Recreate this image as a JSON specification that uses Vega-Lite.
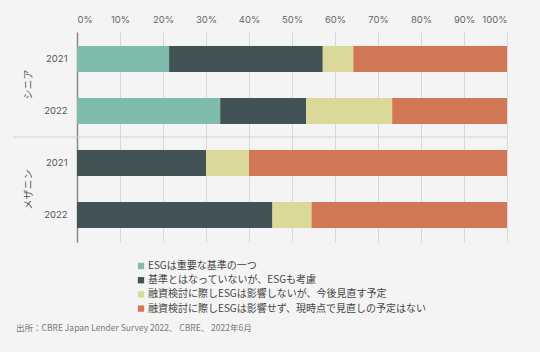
{
  "$schema": "https://vega.github.io/schema/vega-lite/v6.json",
  "width": 430,
  "height": 210,
  "autosize": {"type": "none"},
  "padding": {"left": 77, "top": 32, "right": 33, "bottom": 110},
  "background": "#f4f4f4",
  "config": {
    "view": {"stroke": null},
    "font": "Noto Sans CJK JP"
  },
  "title": {
    "text": "出所：CBRE Japan Lender Survey 2022、 CBRE、 2022年6月",
    "orient": "bottom",
    "anchor": "start",
    "frame": "group",
    "dx": -61,
    "offset": 10,
    "fontSize": 8.5,
    "fontWeight": "normal",
    "color": "#7a7a7a",
    "font": "Noto Sans CJK JP"
  },
  "layer": [
    {
      "data": {
        "values": [
          {"row": "シニア|2021", "category": "ESGは重要な基準の一つ", "ord": 1, "value": 21.4},
          {"row": "シニア|2021", "category": "基準とはなっていないが、ESGも考慮", "ord": 2, "value": 35.7},
          {"row": "シニア|2021", "category": "融資検討に際しESGは影響しないが、今後見直す予定", "ord": 3, "value": 7.1},
          {"row": "シニア|2021", "category": "融資検討に際しESGは影響せず、現時点で見直しの予定はない", "ord": 4, "value": 35.7},
          {"row": "シニア|2022", "category": "ESGは重要な基準の一つ", "ord": 1, "value": 33.3},
          {"row": "シニア|2022", "category": "基準とはなっていないが、ESGも考慮", "ord": 2, "value": 20.0},
          {"row": "シニア|2022", "category": "融資検討に際しESGは影響しないが、今後見直す予定", "ord": 3, "value": 20.0},
          {"row": "シニア|2022", "category": "融資検討に際しESGは影響せず、現時点で見直しの予定はない", "ord": 4, "value": 26.7},
          {"row": "メザニン|2021", "category": "ESGは重要な基準の一つ", "ord": 1, "value": 0},
          {"row": "メザニン|2021", "category": "基準とはなっていないが、ESGも考慮", "ord": 2, "value": 30.0},
          {"row": "メザニン|2021", "category": "融資検討に際しESGは影響しないが、今後見直す予定", "ord": 3, "value": 10.0},
          {"row": "メザニン|2021", "category": "融資検討に際しESGは影響せず、現時点で見直しの予定はない", "ord": 4, "value": 60.0},
          {"row": "メザニン|2022", "category": "ESGは重要な基準の一つ", "ord": 1, "value": 0},
          {"row": "メザニン|2022", "category": "基準とはなっていないが、ESGも考慮", "ord": 2, "value": 45.45},
          {"row": "メザニン|2022", "category": "融資検討に際しESGは影響しないが、今後見直す予定", "ord": 3, "value": 9.1},
          {"row": "メザニン|2022", "category": "融資検討に際しESGは影響せず、現時点で見直しの予定はない", "ord": 4, "value": 45.45}
        ]
      },
      "mark": {"type": "bar"},
      "encoding": {
        "y": {
          "field": "row",
          "type": "nominal",
          "sort": ["シニア|2021", "シニア|2022", "メザニン|2021", "メザニン|2022"],
          "scale": {"paddingInner": 0.5, "paddingOuter": 0.27},
          "axis": {
            "title": null,
            "orient": "left",
            "labelExpr": "split(datum.label, '|')[1]",
            "ticks": false,
            "tickSize": 0,
            "labelPadding": 10,
            "labelFont": "Inter",
            "labelFontSize": 9.5,
            "labelColor": "#555555",
            "domainColor": "#8a8a8a",
            "domainWidth": 1.5,
            "grid": false
          }
        },
        "x": {
          "field": "value",
          "type": "quantitative",
          "aggregate": "sum",
          "stack": "normalize",
          "scale": {"domain": [0, 1]},
          "axis": {
            "title": null,
            "orient": "top",
            "format": ".0%",
            "values": [0, 0.1, 0.2, 0.3, 0.4, 0.5, 0.6, 0.7, 0.8, 0.9, 1],
            "labelOverlap": false,
            "ticks": false,
            "tickSize": 0,
            "domain": false,
            "labelPadding": 8,
            "labelFont": "Inter",
            "labelFontSize": 9.5,
            "labelColor": "#666666",
            "grid": true,
            "gridColor": "#d8d8d8",
            "gridWidth": 1
          }
        },
        "color": {
          "field": "category",
          "type": "nominal",
          "scale": {
            "domain": ["ESGは重要な基準の一つ", "基準とはなっていないが、ESGも考慮", "融資検討に際しESGは影響しないが、今後見直す予定", "融資検討に際しESGは影響せず、現時点で見直しの予定はない"],
            "range": ["#80bcac", "#435254", "#dad99a", "#d27857"]
          },
          "legend": {
            "title": null,
            "orient": "none",
            "legendX": 59,
            "legendY": 229,
            "direction": "vertical",
            "symbolType": "square",
            "symbolSize": 40,
            "symbolStrokeWidth": 0,
            "labelFont": "Noto Sans CJK JP",
            "labelFontSize": 10,
            "labelColor": "#444444",
            "labelOffset": 2,
            "rowPadding": 4.2,
            "labelLimit": 400
          }
        },
        "order": {"field": "ord", "type": "quantitative"}
      }
    },
    {
      "data": {"values": [{"group": "シニア", "start": -0.149, "end": 1}]},
      "mark": {"type": "rule", "color": "#d2d2d2", "strokeWidth": 1},
      "encoding": {
        "y": {
          "field": "group",
          "type": "nominal",
          "bandPosition": 1,
          "scale": {"domain": ["シニア", "メザニン"], "paddingInner": 0, "paddingOuter": 0},
          "axis": {
            "title": null,
            "orient": "left",
            "values": ["シニア", "メザニン"],
            "domain": false,
            "ticks": false,
            "tickSize": 0,
            "labelAngle": -90,
            "labelAlign": "center",
            "labelBaseline": "bottom",
            "labelPadding": 44,
            "labelFont": "Noto Sans CJK JP",
            "labelFontSize": 10,
            "labelColor": "#555555",
            "grid": false
          }
        },
        "x": {"field": "start", "type": "quantitative"},
        "x2": {"field": "end"}
      }
    }
  ],
  "resolve": {"scale": {"y": "independent"}, "axis": {"y": "independent"}}
}
